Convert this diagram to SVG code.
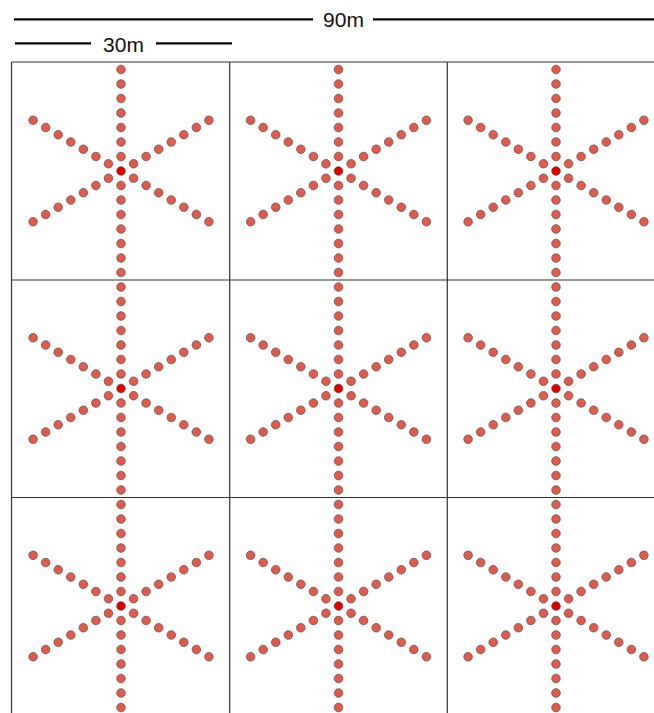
<svg xmlns="http://www.w3.org/2000/svg" xmlns:xlink="http://www.w3.org/1999/xlink" width="654" height="713" viewBox="0 0 654 713">
<style>
.scale{stroke:#000;stroke-width:2.2;fill:none}
.lbl{font-family:"Liberation Sans",Arial,sans-serif;font-size:21px;fill:#111;text-anchor:middle}
.grid{stroke:#333;stroke-width:1.2;fill:none}
.dot{fill:#e05a4e;stroke:#5a4a44;stroke-width:0.7}
.ctr{fill:#e00000;stroke:#5a3a34;stroke-width:0.7}
</style>
<defs>
<g id="star">
<circle class="dot" cx="0" cy="-14.5" r="4.3"/><circle class="dot" cx="0" cy="-29" r="4.3"/><circle class="dot" cx="0" cy="-43.5" r="4.3"/><circle class="dot" cx="0" cy="-58" r="4.3"/><circle class="dot" cx="0" cy="-72.5" r="4.3"/><circle class="dot" cx="0" cy="-87" r="4.3"/><circle class="dot" cx="0" cy="-101.5" r="4.3"/>
<circle class="dot" cx="0" cy="14.5" r="4.3"/><circle class="dot" cx="0" cy="29" r="4.3"/><circle class="dot" cx="0" cy="43.5" r="4.3"/><circle class="dot" cx="0" cy="58" r="4.3"/><circle class="dot" cx="0" cy="72.5" r="4.3"/><circle class="dot" cx="0" cy="87" r="4.3"/><circle class="dot" cx="0" cy="101.5" r="4.3"/>
<circle class="dot" cx="12.56" cy="-7.25" r="4.3"/><circle class="dot" cx="25.11" cy="-14.5" r="4.3"/><circle class="dot" cx="37.67" cy="-21.75" r="4.3"/><circle class="dot" cx="50.23" cy="-29" r="4.3"/><circle class="dot" cx="62.79" cy="-36.25" r="4.3"/><circle class="dot" cx="75.34" cy="-43.5" r="4.3"/><circle class="dot" cx="87.9" cy="-50.75" r="4.3"/>
<circle class="dot" cx="-12.56" cy="-7.25" r="4.3"/><circle class="dot" cx="-25.11" cy="-14.5" r="4.3"/><circle class="dot" cx="-37.67" cy="-21.75" r="4.3"/><circle class="dot" cx="-50.23" cy="-29" r="4.3"/><circle class="dot" cx="-62.79" cy="-36.25" r="4.3"/><circle class="dot" cx="-75.34" cy="-43.5" r="4.3"/><circle class="dot" cx="-87.9" cy="-50.75" r="4.3"/>
<circle class="dot" cx="12.56" cy="7.25" r="4.3"/><circle class="dot" cx="25.11" cy="14.5" r="4.3"/><circle class="dot" cx="37.67" cy="21.75" r="4.3"/><circle class="dot" cx="50.23" cy="29" r="4.3"/><circle class="dot" cx="62.79" cy="36.25" r="4.3"/><circle class="dot" cx="75.34" cy="43.5" r="4.3"/><circle class="dot" cx="87.9" cy="50.75" r="4.3"/>
<circle class="dot" cx="-12.56" cy="7.25" r="4.3"/><circle class="dot" cx="-25.11" cy="14.5" r="4.3"/><circle class="dot" cx="-37.67" cy="21.75" r="4.3"/><circle class="dot" cx="-50.23" cy="29" r="4.3"/><circle class="dot" cx="-62.79" cy="36.25" r="4.3"/><circle class="dot" cx="-75.34" cy="43.5" r="4.3"/><circle class="dot" cx="-87.9" cy="50.75" r="4.3"/>
<circle class="ctr" cx="0" cy="0" r="4.3"/>
</g>
</defs>
<g id="scale-bars">
<line class="scale" x1="14" y1="19.3" x2="313" y2="19.3"/>
<line class="scale" x1="373" y1="19.3" x2="654" y2="19.3"/>
<text class="lbl" x="343.5" y="26.5">90m</text>
<line class="scale" x1="15" y1="43.3" x2="91" y2="43.3"/>
<line class="scale" x1="156" y1="43.3" x2="232" y2="43.3"/>
<text class="lbl" x="123.5" y="51.5">30m</text>
</g>
<g id="grid">
<line class="grid" x1="11.5" y1="62" x2="11.5" y2="713"/>
<line class="grid" x1="229.7" y1="62" x2="229.7" y2="713"/>
<line class="grid" x1="447.3" y1="62" x2="447.3" y2="713"/>
<line class="grid" x1="11.5" y1="62" x2="654" y2="62"/>
<line class="grid" x1="11.5" y1="280" x2="654" y2="280"/>
<line class="grid" x1="11.5" y1="497.5" x2="654" y2="497.5"/>
</g>
<g id="star-r1c1"><use xlink:href="#star" href="#star" x="121" y="171"/></g>
<g id="star-r1c2"><use xlink:href="#star" href="#star" x="338.5" y="171"/></g>
<g id="star-r1c3"><use xlink:href="#star" href="#star" x="556" y="171"/></g>
<g id="star-r2c1"><use xlink:href="#star" href="#star" x="121" y="388.5"/></g>
<g id="star-r2c2"><use xlink:href="#star" href="#star" x="338.5" y="388.5"/></g>
<g id="star-r2c3"><use xlink:href="#star" href="#star" x="556" y="388.5"/></g>
<g id="star-r3c1"><use xlink:href="#star" href="#star" x="121" y="606"/></g>
<g id="star-r3c2"><use xlink:href="#star" href="#star" x="338.5" y="606"/></g>
<g id="star-r3c3"><use xlink:href="#star" href="#star" x="556" y="606"/></g>
</svg>
